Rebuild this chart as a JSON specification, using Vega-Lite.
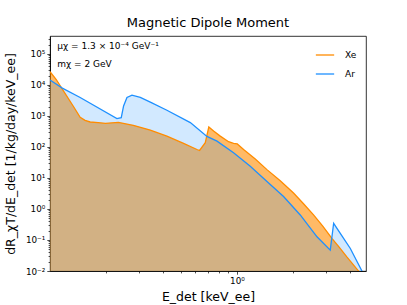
{
  "$schema": "https://vega.github.io/schema/vega-lite/v6.json",
  "width": 316,
  "height": 235,
  "autosize": {"type": "none"},
  "padding": {"left": 50, "top": 36, "right": 41, "bottom": 34},
  "background": "white",
  "config": {
    "font": "DejaVu Sans",
    "view": {"stroke": "#000", "strokeWidth": 0.8},
    "axis": {"grid": false, "domainColor": "#000", "domainWidth": 0.8, "tickColor": "#000", "labelColor": "#000", "titleColor": "#000", "labelFont": "DejaVu Sans", "titleFont": "DejaVu Sans", "titleFontWeight": "normal"}
  },
  "title": {"text": "Magnetic Dipole Moment", "fontSize": 13, "fontWeight": "normal", "font": "DejaVu Sans", "color": "#000", "offset": 6},
  "data": {"values": [
    {"series": "Xe", "E": 0.1, "rate": 27000},
    {"series": "Xe", "E": 0.108, "rate": 15000},
    {"series": "Xe", "E": 0.118, "rate": 6500},
    {"series": "Xe", "E": 0.133, "rate": 2100},
    {"series": "Xe", "E": 0.145, "rate": 910},
    {"series": "Xe", "E": 0.154, "rate": 725},
    {"series": "Xe", "E": 0.164, "rate": 640},
    {"series": "Xe", "E": 0.181, "rate": 611},
    {"series": "Xe", "E": 0.198, "rate": 580},
    {"series": "Xe", "E": 0.232, "rate": 624},
    {"series": "Xe", "E": 0.279, "rate": 500},
    {"series": "Xe", "E": 0.344, "rate": 351},
    {"series": "Xe", "E": 0.422, "rate": 224},
    {"series": "Xe", "E": 0.518, "rate": 130},
    {"series": "Xe", "E": 0.611, "rate": 83},
    {"series": "Xe", "E": 0.631, "rate": 77},
    {"series": "Xe", "E": 0.677, "rate": 137},
    {"series": "Xe", "E": 0.707, "rate": 440},
    {"series": "Xe", "E": 0.75, "rate": 326},
    {"series": "Xe", "E": 0.814, "rate": 224},
    {"series": "Xe", "E": 0.902, "rate": 148},
    {"series": "Xe", "E": 0.959, "rate": 130},
    {"series": "Xe", "E": 1.004, "rate": 125},
    {"series": "Xe", "E": 1.085, "rate": 83},
    {"series": "Xe", "E": 1.253, "rate": 40.8},
    {"series": "Xe", "E": 1.447, "rate": 18.6},
    {"series": "Xe", "E": 1.704, "rate": 8.17},
    {"series": "Xe", "E": 2.007, "rate": 3.26},
    {"series": "Xe", "E": 2.27, "rate": 1.47},
    {"series": "Xe", "E": 2.568, "rate": 0.643},
    {"series": "Xe", "E": 2.877, "rate": 0.282},
    {"series": "Xe", "E": 3.22, "rate": 0.113},
    {"series": "Xe", "E": 3.52, "rate": 0.0587},
    {"series": "Xe", "E": 3.87, "rate": 0.0285},
    {"series": "Xe", "E": 4.47, "rate": 0.01},
    {"series": "Xe", "E": 4.9, "rate": 0.0035},
    {"series": "Ar", "E": 0.1, "rate": 14400},
    {"series": "Ar", "E": 0.1164, "rate": 7930},
    {"series": "Ar", "E": 0.145, "rate": 3960},
    {"series": "Ar", "E": 0.228, "rate": 824},
    {"series": "Ar", "E": 0.2405, "rate": 887},
    {"series": "Ar", "E": 0.2475, "rate": 2110},
    {"series": "Ar", "E": 0.258, "rate": 3960},
    {"series": "Ar", "E": 0.2745, "rate": 4700},
    {"series": "Ar", "E": 0.304, "rate": 3960},
    {"series": "Ar", "E": 0.344, "rate": 2786},
    {"series": "Ar", "E": 0.422, "rate": 1531},
    {"series": "Ar", "E": 0.563, "rate": 611},
    {"series": "Ar", "E": 0.691, "rate": 219},
    {"series": "Ar", "E": 0.782, "rate": 154},
    {"series": "Ar", "E": 0.959, "rate": 64.8},
    {"series": "Ar", "E": 1.178, "rate": 23.8},
    {"series": "Ar", "E": 1.447, "rate": 7.76},
    {"series": "Ar", "E": 1.775, "rate": 2.53},
    {"series": "Ar", "E": 2.18, "rate": 0.643},
    {"series": "Ar", "E": 2.68, "rate": 0.127},
    {"series": "Ar", "E": 3.155, "rate": 0.047},
    {"series": "Ar", "E": 3.29, "rate": 0.346},
    {"series": "Ar", "E": 3.57, "rate": 0.164},
    {"series": "Ar", "E": 4.04, "rate": 0.0533},
    {"series": "Ar", "E": 4.66, "rate": 0.01},
    {"series": "Ar", "E": 4.9, "rate": 0.005}
  ]},
  "encoding": {
    "x": {
      "field": "E", "type": "quantitative",
      "scale": {"type": "log", "domain": [0.1, 4.9], "nice": false},
      "axis": {
        "title": "E_det [keV_ee]", "titleFontSize": 12.5, "titlePadding": 5,
        "values": [0.2, 0.3, 0.4, 0.5, 0.6, 0.7, 0.8, 0.9, 1, 2, 3, 4],
        "labelExpr": "datum.value == 1 ? '10⁰' : ''",
        "labelFontSize": 8.8, "labelPadding": 2,
        "tickSize": {"condition": {"test": "datum.value == 1", "value": 3.2}, "value": 1.9},
        "tickWidth": 0.7
      }
    },
    "y": {
      "field": "rate", "type": "quantitative",
      "scale": {"type": "log", "domain": [0.01, 380000], "nice": false},
      "axis": {
        "title": "dR_χT/dE_det [1/kg/day/keV_ee]", "titleFontSize": 12.5, "titlePadding": 8,
        "values": [0.01, 0.02, 0.03, 0.04, 0.05, 0.06, 0.07, 0.08, 0.09, 0.1, 0.2, 0.3, 0.4, 0.5, 0.6, 0.7, 0.8, 0.9, 1, 2, 3, 4, 5, 6, 7, 8, 9, 10, 20, 30, 40, 50, 60, 70, 80, 90, 100, 200, 300, 400, 500, 600, 700, 800, 900, 1000, 2000, 3000, 4000, 5000, 6000, 7000, 8000, 9000, 10000, 20000, 30000, 40000, 50000, 60000, 70000, 80000, 90000, 100000, 200000, 300000],
        "labelExpr": "datum.value == 0.01 ? '10⁻²' : datum.value == 0.1 ? '10⁻¹' : datum.value == 1 ? '10⁰' : datum.value == 10 ? '10¹' : datum.value == 100 ? '10²' : datum.value == 1000 ? '10³' : datum.value == 10000 ? '10⁴' : datum.value == 100000 ? '10⁵' : ''",
        "labelFontSize": 8.8, "labelPadding": 2,
        "tickSize": {"condition": {"test": "indexof([0.01, 0.1, 1, 10, 100, 1000, 10000, 100000], datum.value) >= 0", "value": 3.2}, "value": 1.9},
        "tickWidth": 0.7
      }
    }
  },
  "layer": [
    {
      "transform": [{"filter": "datum.series == 'Xe'"}],
      "mark": {"type": "area", "color": "#FF8C00", "opacity": 0.6, "clip": true},
      "encoding": {"y2": {"datum": 0.001}}
    },
    {
      "transform": [{"filter": "datum.series == 'Ar'"}],
      "mark": {"type": "area", "color": "#1E90FF", "opacity": 0.2, "clip": true},
      "encoding": {"y2": {"datum": 0.001}}
    },
    {
      "mark": {"type": "line", "strokeWidth": 1.3, "clip": true},
      "encoding": {
        "color": {
          "field": "series", "type": "nominal",
          "scale": {"domain": ["Xe", "Ar"], "range": ["#FF8C00", "#1E90FF"]},
          "legend": {"orient": "top-right", "title": null, "symbolType": "stroke", "symbolSize": 335, "symbolStrokeWidth": 1.3, "labelFontSize": 9, "labelFont": "DejaVu Sans", "labelColor": "#000", "offset": 9, "padding": 0, "rowPadding": 4, "labelOffset": 10}
        }
      }
    },
    {
      "data": {"values": [
        {"E": 0.1094, "rate": 183000, "label": "μχ = 1.3 × 10⁻⁴ GeV⁻¹"},
        {"E": 0.1094, "rate": 47800, "label": "mχ = 2 GeV"}
      ]},
      "mark": {"type": "text", "align": "left", "baseline": "middle", "fontSize": 9, "font": "DejaVu Sans", "color": "#000"},
      "encoding": {"text": {"field": "label"}}
    }
  ]
}
